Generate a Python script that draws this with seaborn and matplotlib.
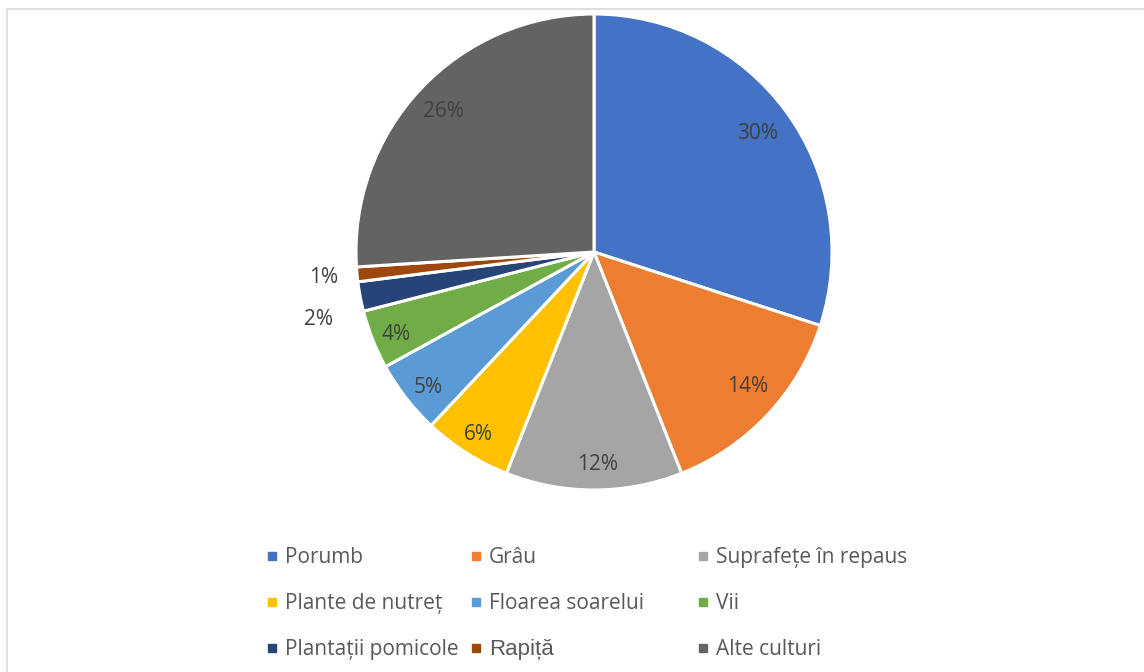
import numpy as np
import matplotlib
matplotlib.use("Agg")
import matplotlib.pyplot as plt
from matplotlib.lines import Line2D
from matplotlib.patches import Rectangle
import seaborn as sns

categories = ["Porumb", "Grâu", "Suprafețe în repaus", "Plante de nutreț",
              "Floarea soarelui", "Vii", "Plantații pomicole", "Rapiță", "Alte culturi"]
values = [30, 14, 12, 6, 5, 4, 2, 1, 26]
pct_labels = ["30%", "14%", "12%", "6%", "5%", "4%", "2%", "1%", "26%"]
colors = ["#4472C4", "#ED7D31", "#A5A5A5", "#FFC000", "#5B9BD5",
          "#70AD47", "#264478", "#9E480E", "#636363"]

sns.set_theme(style="white")
plt.rcParams["font.family"] = ["Open Sans", "DejaVu Sans"]
palette = sns.color_palette(colors)

W, H = 1144, 672
fig = plt.figure(figsize=(W / 100, H / 100), dpi=100)
fig.patch.set_facecolor("white")

# chart frame
fig.patches.append(Rectangle((7 / W, -0.5), 2.0, 1 - 9 / H + 0.5, transform=fig.transFigure,
                             facecolor="none", edgecolor="#D9D9D9", linewidth=1.2))

cx, cy, r = 594, 252, 238
ax = fig.add_axes([(cx - r) / W, (H - cy - r) / H, 2 * r / W, 2 * r / H])
wedges, _ = ax.pie(values, colors=palette, startangle=90, counterclock=False, radius=1,
                   wedgeprops=dict(edgecolor="white", linewidth=2.2))
ax.set_xlim(-1, 1)
ax.set_ylim(-1, 1)
ax.set_aspect("equal")
ax.axis("off")

# label placement (radial distance, angular nudge in degrees)
dist = [0.85, 0.86, 0.895, 0.91, 0.90, 0.90, 1.19, 1.14, 0.865]
nudge = [0, 2, 1, 0, 1.5, 1, 3, 0, 0]
for w, lab, d, n in zip(wedges, pct_labels, dist, nudge):
    ang = np.deg2rad((w.theta1 + w.theta2) / 2 + n)
    ax.text(d * np.cos(ang), d * np.sin(ang), lab, ha="center", va="center",
            fontsize=15, color="#404040", clip_on=False)

# legend in three columns
col_x = [266, 470, 697]
fs = 15
for c in range(3):
    idx = [c, c + 3, c + 6]
    handles = [Line2D([], [], marker="s", linestyle="", markersize=6,
                      color=palette[i]) for i in idx]
    leg = fig.legend(handles, [categories[i] for i in idx], loc="upper left",
                     bbox_to_anchor=(col_x[c] / W, 1 - 547 / H), frameon=False,
                     fontsize=fs, labelcolor="#595959", handlelength=0.62,
                     handletextpad=0.3, labelspacing=1.2, borderpad=0, borderaxespad=0)
    for i, t in zip(idx, leg.get_texts()):
        if categories[i] == "Rapiță":
            t.set_fontfamily(["Liberation Sans", "DejaVu Sans"])
            t.set_fontsize(16)

fig.savefig("out.png", dpi=100, facecolor="white")
